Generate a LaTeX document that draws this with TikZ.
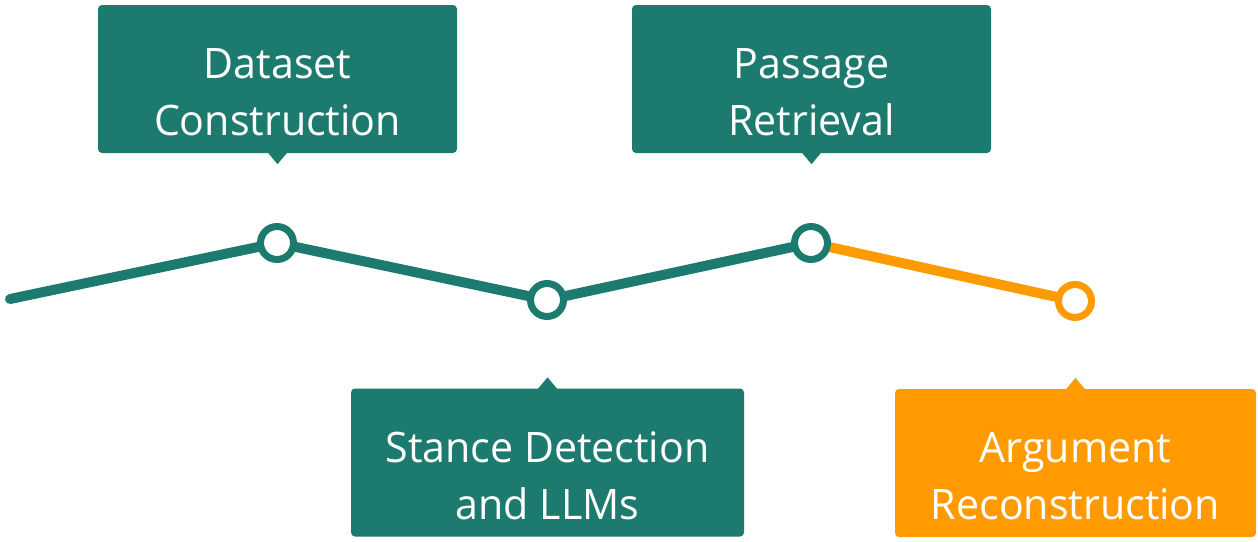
\documentclass[tikz,border=0pt]{standalone}
\usepackage{fontspec}
\setmainfont[FakeStretch=0.98]{Open Sans}
\definecolor{stageteal}{HTML}{1C7A6E}
\definecolor{stageorange}{HTML}{FF9B00}
\begin{document}
\begin{tikzpicture}[x=1pt,y=-1pt,
  callout/.style={rectangle, rounded corners=4pt, inner sep=0pt, minimum height=148pt},
  calltext/.style={align=center, inner sep=0pt, text=white,
    font=\fontsize{42}{57}\selectfont},
  milestone/.style={circle, fill=white, line width=7pt, minimum size=33pt, inner sep=0pt},
  trackline/.style={line width=10pt, line cap=round, line join=round}]
\useasboundingbox (0,0) rectangle (1258,541);

% timeline track
\coordinate (s) at (10,299);
\coordinate (p1) at (277,243);
\coordinate (p2) at (547,300);
\coordinate (p3) at (811,243);
\coordinate (p4) at (1075,301);
\draw[trackline, stageteal] (s) -- (p1) -- (p2) -- (p3);
\draw[trackline, stageorange] (p3) -- (p4);

% milestones
\node[milestone, draw=stageteal]   (m1) at (p1) {};
\node[milestone, draw=stageteal]   (m2) at (p2) {};
\node[milestone, draw=stageteal]   (m3) at (p3) {};
\node[milestone, draw=stageorange] (m4) at (p4) {};

% callout boxes
\node[callout, fill=stageteal, minimum width=359pt] (b1) at (277.5,79) {};
\node[callout, fill=stageteal, minimum width=359pt] (b2) at (811.5,79) {};
\node[callout, fill=stageteal, minimum width=393pt] (b3) at (547.5,462.5) {};
\node[callout, fill=stageorange, minimum width=361pt] (b4) at (1075.5,463) {};

% callout pointers
\fill[stageteal] ([xshift=-10pt,yshift=1pt]b1.south) -- ++(10,12) -- ++(10,-12) -- cycle;
\fill[stageteal] ([xshift=-10pt,yshift=1pt]b2.south) -- ++(10,12) -- ++(10,-12) -- cycle;
\fill[stageteal] ([xshift=-10pt,yshift=-1pt]b3.north) -- ++(10,-12) -- ++(10,12) -- cycle;
\fill[stageorange] ([xshift=-10pt,yshift=-1pt]b4.north) -- ++(10,-12) -- ++(10,12) -- cycle;

% labels
\node[calltext] (t1) at ([yshift=-13pt]b1.center) {Dataset\\Construction};
\node[calltext] (t2) at ([yshift=-13pt]b2.center) {Passage\\Retrieval};
\node[calltext] (t3) at ([yshift=-13pt]b3.center) {Stance Detection\\and LLMs};
\node[calltext] (t4) at ([yshift=-13pt]b4.center) {Argument\\Reconstruction};
\end{tikzpicture}
\end{document}
